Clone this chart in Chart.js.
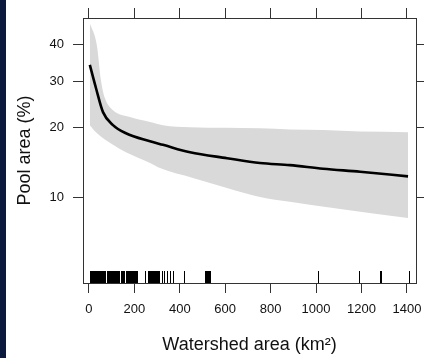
<!DOCTYPE html>
<html>
<head>
<meta charset="utf-8">
<script src="https://cdn.jsdelivr.net/npm/chart.js@4/dist/chart.umd.min.js"></script>
<style>
  html, body { margin: 0; padding: 0; background: #0b1a3c; }
  #wrap { position: absolute; left: 6px; top: 0; width: 418px; height: 358px; background: #fff; }
</style>
</head>
<body>
<div id="wrap"><canvas id="chart" width="418" height="358"></canvas></div>
<script>
// axis ticks
const xTicks = [0, 200, 400, 600, 800, 1000, 1200, 1400]
const yTicks = [10, 20, 30, 40]

// fitted curve (watershed area km2 -> pool area %)
const fitArea = [4, 31, 62, 106, 163, 269, 326, 445, 608, 753, 885, 1031, 1194, 1405]
const fitPool = [34.3, 28.5, 23.1, 20.5, 19.0, 17.6, 17.0, 15.8, 14.9, 14.2, 13.9, 13.4, 13.0, 12.4]

// confidence band
const upperArea = [4, 35, 53, 70, 106, 181, 269, 326, 445, 600, 753, 885, 1031, 1194, 1405]
const upperPool = [46, 39.7, 30.4, 26.2, 23.5, 22.1, 21.1, 20.5, 20.1, 20.0, 19.9, 19.7, 19.6, 19.3, 19.2]
const lowerArea = [4, 31, 106, 163, 269, 313, 458, 608, 753, 885, 1075, 1251, 1405]
const lowerPool = [20.5, 19.2, 17.0, 15.8, 14.2, 13.5, 12.2, 11.0, 10.0, 9.5, 8.9, 8.4, 8.0]

// observed watershed areas (rug)
const rugArea = [
	4, 8, 12, 17, 21, 25, 30, 34, 39, 43, 47, 52, 56, 61, 65, 70,
	79, 84, 88, 92, 97, 101, 106, 110, 114, 119, 123, 128, 132,
	141, 145, 150, 154,
	163, 167, 172, 176, 181, 185, 189, 194, 198, 203, 207, 211,
	247, 260, 264, 269, 273, 278, 282, 286, 291, 295, 299, 304,
	308, 322, 330, 344, 357, 370, 418,
	511, 515, 520, 524, 529, 533,
	1007, 1190, 1282, 1286, 1410,
]

const xMin = -26
const xMax = 1440
const yMinPct = 3.9
const yMaxPct = 47.5

// y axis uses a logit scale
const logit = (p) => Math.log(p / (100 - p))
const unlogit = (v) => 100 / (1 + Math.exp(-v))

const pts = (xs, ys) => xs.map((x, i) => ({ x: x, y: logit(ys[i]) }))

const FONT = "'Liberation Sans', Arial, sans-serif"
const AXIS = "#333"
const TEXT = "#111"

const rugPlugin = {
	id: "rug",
	afterDatasetsDraw(chart) {
		const { ctx, chartArea, scales } = chart
		ctx.save()
		ctx.strokeStyle = "#000"
		ctx.lineWidth = 1
		ctx.beginPath()
		rugArea.forEach((a) => {
			const px = Math.round(scales.x.getPixelForValue(a)) + 0.5
			ctx.moveTo(px, chartArea.bottom)
			ctx.lineTo(px, chartArea.bottom - 12)
		})
		ctx.stroke()
		ctx.restore()
	},
}

const setXTicks = (s) => { s.ticks = xTicks.map((v) => ({ value: v })) }
const setYTicks = (s) => { s.ticks = yTicks.map((v) => ({ value: logit(v) })) }
const noSidePad = (s) => { s.paddingLeft = 0; s.paddingRight = 0 }

const tickGrid = { drawOnChartArea: false, drawTicks: true, tickLength: 10, color: AXIS, lineWidth: 1 }

const config = {
	type: "line",
	data: {
		datasets: [
			{
				label: "fit",
				data: pts(fitArea, fitPool),
				borderColor: "#000",
				borderWidth: 2.6,
				pointRadius: 0,
				cubicInterpolationMode: "monotone",
				fill: false,
				order: 0,
			},
			{
				label: "upper",
				data: pts(upperArea, upperPool),
				borderWidth: 0,
				borderColor: "rgba(0,0,0,0)",
				backgroundColor: "#d9d9d9",
				pointRadius: 0,
				cubicInterpolationMode: "monotone",
				fill: "+1",
				order: 1,
			},
			{
				label: "lower",
				data: pts(lowerArea, lowerPool),
				borderWidth: 0,
				borderColor: "rgba(0,0,0,0)",
				pointRadius: 0,
				cubicInterpolationMode: "monotone",
				fill: false,
				order: 2,
			},
		],
	},
	options: {
		responsive: false,
		animation: false,
		layout: { padding: 0 },
		plugins: {
			legend: { display: false },
			tooltip: { enabled: false },
		},
		scales: {
			x: {
				type: "linear",
				position: "bottom",
				min: xMin,
				max: xMax,
				afterBuildTicks: setXTicks,
				afterFit: (s) => { s.height = 75; noSidePad(s) },
				grid: tickGrid,
				border: { display: true, color: AXIS, width: 1 },
				ticks: {
					autoSkip: false,
					maxRotation: 0,
					padding: 9,
					color: TEXT,
					font: { family: FONT, size: 13 },
					callback: (v) => String(v),
				},
				title: {
					display: true,
					text: "Watershed area (km²)",
					color: TEXT,
					font: { family: FONT, size: 18 },
					padding: { top: 0, bottom: 2 },
				},
			},
			x2: {
				type: "linear",
				position: "top",
				min: xMin,
				max: xMax,
				afterBuildTicks: setXTicks,
				afterFit: (s) => { s.height = 18; noSidePad(s) },
				grid: tickGrid,
				border: { display: true, color: AXIS, width: 1 },
				ticks: { display: false },
			},
			y: {
				type: "linear",
				position: "left",
				min: logit(yMinPct),
				max: logit(yMaxPct),
				afterBuildTicks: setYTicks,
				afterFit: (s) => { s.width = 77 },
				grid: tickGrid,
				border: { display: true, color: AXIS, width: 1 },
				ticks: {
					autoSkip: false,
					padding: 9,
					color: TEXT,
					font: { family: FONT, size: 13 },
					callback: (v) => String(Math.round(unlogit(v))),
				},
				title: {
					display: true,
					text: "Pool area (%)",
					color: TEXT,
					font: { family: FONT, size: 18 },
					padding: { top: 8, bottom: 0 },
				},
			},
			y2: {
				type: "linear",
				position: "right",
				min: logit(yMinPct),
				max: logit(yMaxPct),
				afterBuildTicks: setYTicks,
				afterFit: (s) => { s.width = 8 },
				grid: tickGrid,
				border: { display: true, color: AXIS, width: 1 },
				ticks: { display: false },
			},
		},
	},
	plugins: [rugPlugin],
}

new Chart(document.getElementById("chart"), config)
</script>
</body>
</html>
